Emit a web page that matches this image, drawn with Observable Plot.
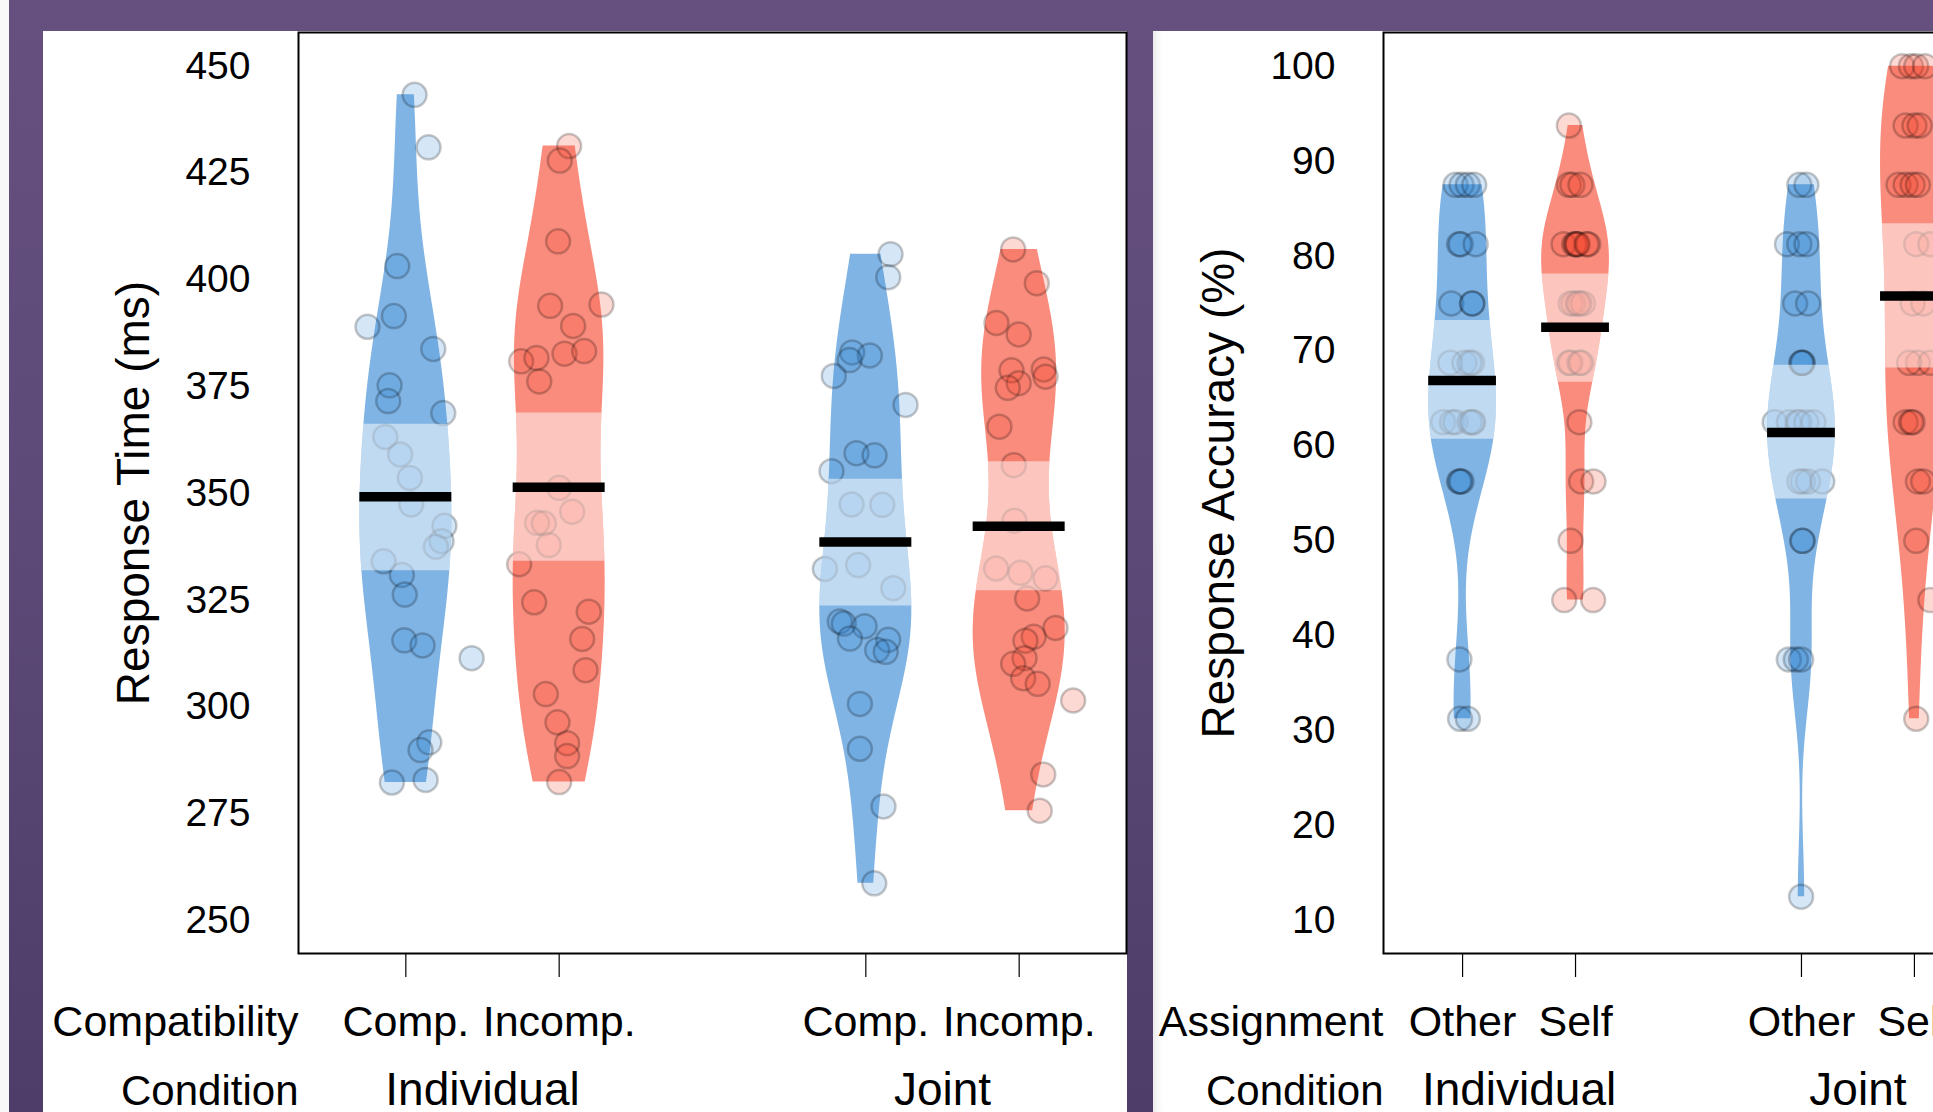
<!DOCTYPE html>
<html>
<head>
<meta charset="utf-8">
<script src="https://cdn.jsdelivr.net/npm/d3@7"></script>
<script src="https://cdn.jsdelivr.net/npm/@observablehq/plot@0.6"></script>
<style>
html, body { margin: 0; padding: 0; width: 1933px; height: 1112px; overflow: hidden; background: #f8f8f8; font-family: "Liberation Sans", Arial, sans-serif; }
#slide { position: absolute; left: 9px; top: 0; width: 1924px; height: 1112px; background: linear-gradient(180deg, #66507f 0%, #5d4a78 45%, #4e3d68 100%); }
.panel { position: absolute; top: 31px; height: 1081px; background: #fff; }
#p1 { left: 43px; width: 1084px; }
#p2 { left: 1153px; width: 780px; box-shadow: inset 10px 0 10px -8px rgba(0,0,0,0.12); }
#c1, #c2 { position: absolute; top: 0; }
#c1 { left: 0; width: 1140px; }
#c2 { left: 1153px; width: 854px; }
#c1 svg, #c2 svg { max-width: none !important; display: block; }
</style>
</head>
<body>
<div id="slide"></div>
<div class="panel" id="p1"></div>
<div class="panel" id="p2"></div>
<div id="c1"></div>
<div id="c2"></div>
<script>
// ---------------- DATA ----------------
const positions = [1, 2, 4, 5];
const groupPositions = [1.5, 4.5];

// Response time (ms) — left chart
const rtCompatLabels = ["Comp.", "Incomp.", "Comp.", "Incomp."];
const rtConditionLabels = ["Individual", "Joint"];
const rtRowHeaders = ["Compatibility", "Condition"];
const rtTicks = [250, 275, 300, 325, 350, 375, 400, 425, 450];

const rtIndComp = [443.3, 431.0, 403.2, 391.5, 389.0, 383.8, 375.3, 371.6, 368.8, 363.2, 359.1, 353.6, 347.4, 342.4, 338.8, 337.5, 334.1, 330.9, 326.3, 315.6, 314.4, 311.4, 291.7, 289.9, 282.3, 282.9];
const rtIndCompJitter = [0.057, 0.148, -0.056, -0.078, -0.25, 0.179, -0.106, -0.115, 0.244, -0.134, -0.037, 0.026, 0.035, 0.252, 0.233, 0.196, -0.145, -0.026, -0.007, -0.010, 0.109, 0.429, 0.153, 0.096, -0.091, 0.129];
const rtIndIncomp = [431.3, 427.9, 409.0, 394.2, 393.9, 389.2, 382.7, 383.3, 380.9, 381.7, 376.2, 351.3, 345.7, 343.1, 343.0, 337.9, 333.4, 324.5, 322.3, 315.9, 308.6, 303.0, 296.4, 291.5, 288.5, 282.4];
const rtIndIncompJitter = [0.065, 0.004, -0.007, 0.276, -0.059, 0.091, 0.035, 0.163, -0.248, -0.148, -0.130, 0, 0.085, -0.144, -0.100, -0.068, -0.261, -0.163, 0.193, 0.150, 0.172, -0.087, -0.011, 0.052, 0.052, 0];
const rtJointComp = [406.0, 400.6, 383.0, 382.3, 381.2, 377.5, 370.7, 359.4, 358.9, 355.2, 347.4, 347.3, 332.3, 333.2, 327.8, 320.0, 319.5, 318.9, 316.0, 315.7, 313.3, 312.9, 300.7, 290.2, 276.7, 258.7];
const rtJointCompJitter = [0.161, 0.146, -0.089, 0.026, -0.106, -0.209, 0.259, -0.061, 0.057, -0.224, -0.093, 0.107, -0.267, -0.050, 0.179, -0.170, -0.144, -0.008, -0.104, 0.146, 0.074, 0.130, -0.039, -0.039, 0.115, 0.055];
const rtJointIncomp = [407.1, 399.2, 389.9, 387.2, 378.8, 379.0, 377.3, 375.8, 374.7, 365.6, 356.6, 343.6, 332.4, 331.4, 330.1, 325.4, 318.5, 316.4, 315.5, 311.4, 310.1, 306.7, 305.4, 301.5, 284.2, 275.7];
const rtJointIncompJitter = [-0.039, 0.115, -0.148, -0.003, -0.050, 0.160, 0.172, -0.003, -0.074, -0.129, -0.035, -0.031, -0.150, 0.008, 0.172, 0.052, 0.237, 0.095, 0.041, 0.035, -0.039, 0.026, 0.121, 0.352, 0.157, 0.134];
const rtMeans = [349.2, 351.4, 338.6, 342.3];
const rtHdiLow = [331.9, 334.1, 323.6, 327.2];
const rtHdiHigh = [366.2, 368.8, 353.3, 357.4];

// Response accuracy (%) — right chart
const accAssignLabels = ["Other", "Self", "Other", "Self"];
const accConditionLabels = ["Individual", "Joint"];
const accRowHeaders = ["Assignment", "Condition"];
const accTicks = [10, 20, 30, 40, 50, 60, 70, 80, 90, 100];

const accIndOther = [87.5, 87.5, 87.5, 87.5, 81.25, 81.25, 81.25, 75, 75, 75, 68.75, 68.75, 68.75, 68.75, 62.5, 62.5, 62.5, 62.5, 62.5, 62.5, 56.25, 56.25, 56.25, 37.5, 31.25, 31.25];
const accIndOtherJitter = [-0.062, -0.009, 0.047, 0.103, -0.031, -0.016, 0.116, -0.1, 0.087, 0.084, -0.109, 0.016, 0.084, 0.062, -0.172, -0.094, -0.062, 0.062, 0.094, 0.084, -0.022, -0.031, -0.009, -0.028, -0.022, 0.047];
const accIndSelf = [93.75, 87.5, 87.5, 87.5, 81.25, 81.25, 81.25, 81.25, 81.25, 81.25, 81.25, 75, 75, 75, 75, 75, 68.75, 68.75, 68.75, 68.75, 62.5, 56.25, 56.25, 50, 43.75, 43.75];
const accIndSelfJitter = [-0.059, -0.059, -0.028, 0.044, -0.106, -0.012, 0.003, 0.012, 0.019, 0.112, 0.097, -0.044, -0.019, 0.019, 0.066, 0.034, -0.059, -0.044, 0.034, 0.05, 0.034, 0.05, 0.159, -0.044, -0.1, 0.156];
const accJointOther = [87.5, 87.5, 81.25, 81.25, 81.25, 75, 75, 68.75, 68.75, 68.75, 62.5, 62.5, 62.5, 62.5, 62.5, 62.5, 56.25, 56.25, 56.25, 56.25, 50, 50, 37.5, 37.5, 37.5, 12.5];
const accJointOtherJitter = [-0.019, 0.044, -0.128, -0.019, 0.044, -0.056, 0.059, 0.006, 0.012, -0.003, -0.237, -0.112, -0.034, -0.019, 0.044, 0.106, 0.012, 0.059, 0.184, -0.019, 0.012, 0.006, -0.112, -0.05, -0.003, -0.003];
const accJointSelf = [100, 100, 100, 100, 93.75, 93.75, 93.75, 87.5, 87.5, 87.5, 87.5, 81.25, 81.25, 75, 75, 68.75, 68.75, 68.75, 62.5, 62.5, 62.5, 56.25, 56.25, 50, 43.75, 31.25];
const accJointSelfJitter = [-0.109, -0.031, 0.016, 0.094, -0.078, 0, 0.047, -0.141, -0.078, -0.016, 0.031, 0.016, 0.141, -0.016, 0.078, 0.031, 0.141, -0.047, -0.078, -0.031, -0.016, 0.031, 0.078, 0.016, 0.141, 0.016];
const accMeans = [66.9, 72.5, 61.4, 75.8];
const accHdiLow = [60.7, 66.7, 54.4, 68.2];
const accHdiHigh = [73.2, 78.1, 68.5, 83.4];

// ---------------- STYLE ----------------
const beanColors = ["#80b4e4", "#f98c7d", "#80b4e4", "#f98c7d"];
const pointColors = ["#2b82d2", "#f53f26", "#2b82d2", "#f53f26"];
const FONT = "Liberation Sans, Arial, Helvetica, sans-serif";
const HALF = 0.3;

// ---------------- HELPERS ----------------
function q7(sorted, p) {
  const h = (sorted.length - 1) * p, lo = Math.floor(h);
  const hi = Math.min(lo + 1, sorted.length - 1);
  return sorted[lo] + (h - lo) * (sorted[hi] - sorted[lo]);
}
function bwNrd0(v) {
  const s = d3.deviation(v);
  const sorted = [...v].sort((a, b) => a - b);
  const iqr = q7(sorted, 0.75) - q7(sorted, 0.25);
  let lo = Math.min(s, iqr / 1.34);
  if (!(lo > 0)) lo = s || 1;
  return 0.9 * lo * Math.pow(v.length, -0.2);
}
function buildGroups(valueSets, jitterSets, means, lows, highs) {
  return valueSets.map((values, i) => ({
    key: i, pos: positions[i], values, jitter: jitterSets[i],
    mean: means[i], lo: lows[i], hi: highs[i],
    bean: beanColors[i], pt: pointColors[i]
  }));
}
function beanRows(groups) {
  const out = [], band = [];
  for (const g of groups) {
    const bw = bwNrd0(g.values);
    const mn = d3.min(g.values), mx = d3.max(g.values);
    const n = 240;
    const ys = d3.range(n + 1).map(i => mn + (mx - mn) * i / n).concat([g.lo, g.hi]).sort((a, b) => a - b);
    const dens = y => d3.sum(g.values, v => Math.exp(-0.5 * ((y - v) / bw) ** 2));
    const d = ys.map(dens);
    const m = d3.max(d);
    ys.forEach((y, i) => {
      const row = {key: g.key, y, x1: g.pos - d[i] / m * HALF, x2: g.pos + d[i] / m * HALF, fill: g.bean};
      out.push(row);
      if (y >= g.lo - 1e-9 && y <= g.hi + 1e-9) band.push(row);
    });
  }
  return {out, band};
}
function pointRows(groups) {
  return groups.flatMap(g => g.values.map((v, i) => ({x: g.pos + g.jitter[i], y: v, fill: g.pt})));
}

function pirate({groups, yDomain, yTicks, yLabel, rowHeaders, catLabels, condLabels, width, marginLeft}) {
  const {out, band} = beanRows(groups);
  const pts = pointRows(groups);
  const cats = positions.map((p, i) => ({x: p, t: catLabels[i]}));
  const conds = groupPositions.map((p, i) => ({x: p, t: condLabels[i]}));
  return Plot.plot({
    width, height: 1112,
    marginLeft, marginRight: 14, marginTop: 32, marginBottom: 159,
    x: {domain: [0.3, 5.7]},
    y: {domain: yDomain},
    color: {type: "identity"},
    style: {background: "transparent", fontFamily: FONT, color: "black", overflow: "visible"},
    marks: [
      Plot.frame({stroke: "black", strokeWidth: 2}),
      Plot.axisY({ticks: yTicks, tickSize: 0, tickPadding: 48, fontSize: 39, label: null}),
      Plot.axisX({ticks: positions, tickSize: 24, tickFormat: () => "", label: null, strokeWidth: 1.2}),
      Plot.areaX(out, {y: "y", x1: "x1", x2: "x2", z: "key", fill: "fill", curve: "linear"}),
      Plot.dot(pts, {x: "x", y: "y", r: 12, fill: "fill", fillOpacity: 0.2, stroke: "black", strokeOpacity: 0.22, strokeWidth: 2.5}),
      Plot.areaX(band, {y: "y", x1: "x1", x2: "x2", z: "key", fill: "white", fillOpacity: 0.5, curve: "linear"}),
      Plot.ruleY(groups, {y: "mean", x1: d => d.pos - HALF, x2: d => d.pos + HALF, stroke: "black", strokeWidth: 9.5}),
      Plot.text(cats, {x: "x", text: "t", frameAnchor: "bottom", lineAnchor: "middle", dy: 69, fontSize: 43}),
      Plot.text(conds, {x: "x", text: "t", frameAnchor: "bottom", lineAnchor: "middle", dy: 137, fontSize: 46}),
      Plot.text([rowHeaders[0]], {frameAnchor: "bottom-left", textAnchor: "end", lineAnchor: "middle", dy: 69, fontSize: 43}),
      Plot.text([rowHeaders[1]], {frameAnchor: "bottom-left", textAnchor: "end", lineAnchor: "middle", dy: 138, fontSize: 42}),
      Plot.text([yLabel], {frameAnchor: "left", textAnchor: "middle", lineAnchor: "middle", rotate: -90, dx: -164, fontSize: 46})
    ]
  });
}

const rtGroups = buildGroups(
  [rtIndComp, rtIndIncomp, rtJointComp, rtJointIncomp],
  [rtIndCompJitter, rtIndIncompJitter, rtJointCompJitter, rtJointIncompJitter],
  rtMeans, rtHdiLow, rtHdiHigh);
const accGroups = buildGroups(
  [accIndOther, accIndSelf, accJointOther, accJointSelf],
  [accIndOtherJitter, accIndSelfJitter, accJointOtherJitter, accJointSelfJitter],
  accMeans, accHdiLow, accHdiHigh);

document.getElementById("c1").append(pirate({
  groups: rtGroups, yDomain: [242.27, 457.89], yTicks: rtTicks,
  yLabel: "Response Time (ms)", rowHeaders: rtRowHeaders,
  catLabels: rtCompatLabels, condLabels: rtConditionLabels,
  width: 1140, marginLeft: 298
}));
document.getElementById("c2").append(pirate({
  groups: accGroups, yDomain: [6.52, 103.55], yTicks: accTicks,
  yLabel: "Response Accuracy (%)", rowHeaders: accRowHeaders,
  catLabels: accAssignLabels, condLabels: accConditionLabels,
  width: 854, marginLeft: 230
}));
</script>
</body>
</html>
